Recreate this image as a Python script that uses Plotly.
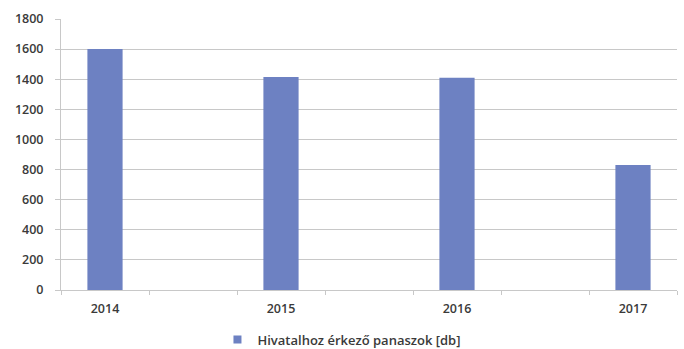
import plotly.graph_objects as go

years = ["2014", "2015", "2016", "2017"]
values = [1600, 1415, 1410, 830]
series_name = "Hivatalhoz érkező panaszok [db]"

# interleave blank spacer categories between the years (as in the original chart)
axis_cats = []
for i, y in enumerate(years):
    axis_cats.append(y)
    if i < len(years) - 1:
        axis_cats.append(" " * (i + 1))

bar_color = "#6D81C2"
grid_color = "#C8C8C8"
text_color = "#3A3A3A"
font_family = "Open Sans"
font_weight = 600

fig = go.Figure()
fig.add_trace(
    go.Bar(
        x=years,
        y=values,
        name=series_name,
        marker=dict(color=bar_color, line=dict(width=0)),
        showlegend=False,
        legendgroup="s",
    )
)
# legend entry with a small square swatch (as in the original)
fig.add_trace(
    go.Scatter(
        x=[None],
        y=[None],
        mode="markers",
        name=series_name,
        marker=dict(symbol="square", size=8, color=bar_color),
        legendgroup="s",
        showlegend=True,
    )
)

fig.update_layout(
    width=684,
    height=349,
    margin=dict(l=61, r=7, t=19, b=59, autoexpand=False),
    paper_bgcolor="white",
    plot_bgcolor="white",
    bargap=0.6,
    font=dict(family=font_family, size=12.5, color=text_color, weight=font_weight),
    showlegend=True,
    legend=dict(
        orientation="h",
        x=0.254,
        xanchor="left",
        yref="container",
        y=0.027,
        yanchor="middle",
        borderwidth=0,
        font=dict(family=font_family, size=13, color=text_color, weight=font_weight),
    ),
)

fig.update_xaxes(
    type="category",
    categoryorder="array",
    categoryarray=axis_cats,
    tickson="boundaries",
    ticks="outside",
    ticklen=4,
    tickcolor=grid_color,
    showline=True,
    linecolor=grid_color,
    linewidth=1,
    showgrid=False,
    ticklabelstandoff=7,
    tickfont=dict(family=font_family, size=12.5, color=text_color, weight=font_weight),
)

fig.update_yaxes(
    range=[0, 1800],
    dtick=200,
    ticks="outside",
    ticklen=5,
    tickcolor=grid_color,
    showline=True,
    linecolor=grid_color,
    linewidth=1,
    showgrid=True,
    gridcolor=grid_color,
    gridwidth=1,
    zeroline=False,
    ticklabelstandoff=9,
    tickfont=dict(family=font_family, size=12.5, color=text_color, weight=font_weight),
)

fig.write_html("out.html")
